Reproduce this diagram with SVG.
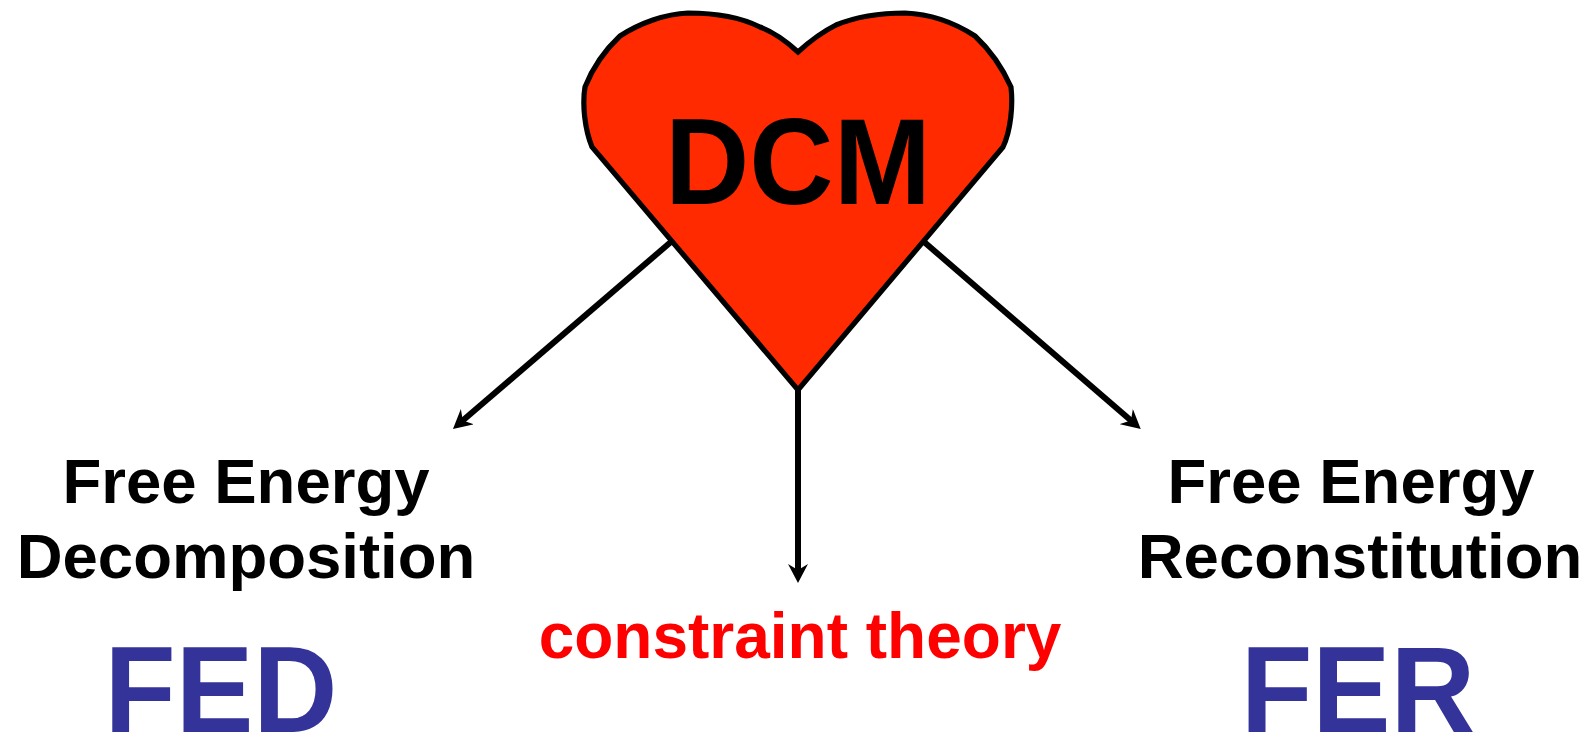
<svg xmlns="http://www.w3.org/2000/svg" width="1592" height="734" viewBox="0 0 1592 734">
<style>
text{font-family:"Liberation Sans",Arial,sans-serif;font-weight:700;text-anchor:middle}
.lbl{font-size:63.5px;fill:#000}
.abbr{font-size:122px;fill:#333399}
.conn{fill:none;stroke:#000;stroke-width:6}
</style>
<defs><marker id="arr" markerUnits="userSpaceOnUse" markerWidth="20" markerHeight="20" refX="8" refY="10" orient="auto" viewBox="0 0 20 20"><path d="M0 0L19 10L0 20L6 10Z" fill="#000"/></marker></defs>
<rect width="1592" height="734" fill="#fff"/>
<g id="connectors">
<line class="conn" x1="672" y1="241" x2="461.3" y2="421.8" marker-end="url(#arr)"/>
<line class="conn" x1="798" y1="390" x2="798" y2="572" marker-end="url(#arr)"/>
<line class="conn" x1="923" y1="241" x2="1132.4" y2="421.8" marker-end="url(#arr)"/>
</g>
<g id="heart">
<path d="M798 52C786 41 773 32 760 27C738 16 715 13 688 13C665 14 640 23 620 36C605 50 593 67 585 87C582 105 585 130 592 147L798 390L1003 147C1011 130 1013 105 1011 87C1002 67 990 50 975 36C955 23 930 14 905 13C880 13 858 16 836 25C822 32 810 41 798 52Z" fill="#ff2a00" stroke="#000" stroke-width="5.2" stroke-linejoin="miter"/>
<text transform="translate(798 204) scale(.957 1)" font-size="122">DCM</text>
</g>
<g id="fed"><text class="lbl" x="246" y="503">Free Energy</text><text class="lbl" x="246" y="577.5">Decomposition</text><text class="abbr" transform="translate(221 732) scale(.955 1)">FED</text></g>
<g id="constraint"><text x="800" y="658" font-size="64" fill="#ff0000">constraint theory</text></g>
<g id="fer"><text class="lbl" x="1351" y="503">Free Energy</text><text class="lbl" x="1360" y="577.5">Reconstitution</text><text class="abbr" transform="translate(1358 732) scale(.962 1)">FER</text></g>
</svg>
